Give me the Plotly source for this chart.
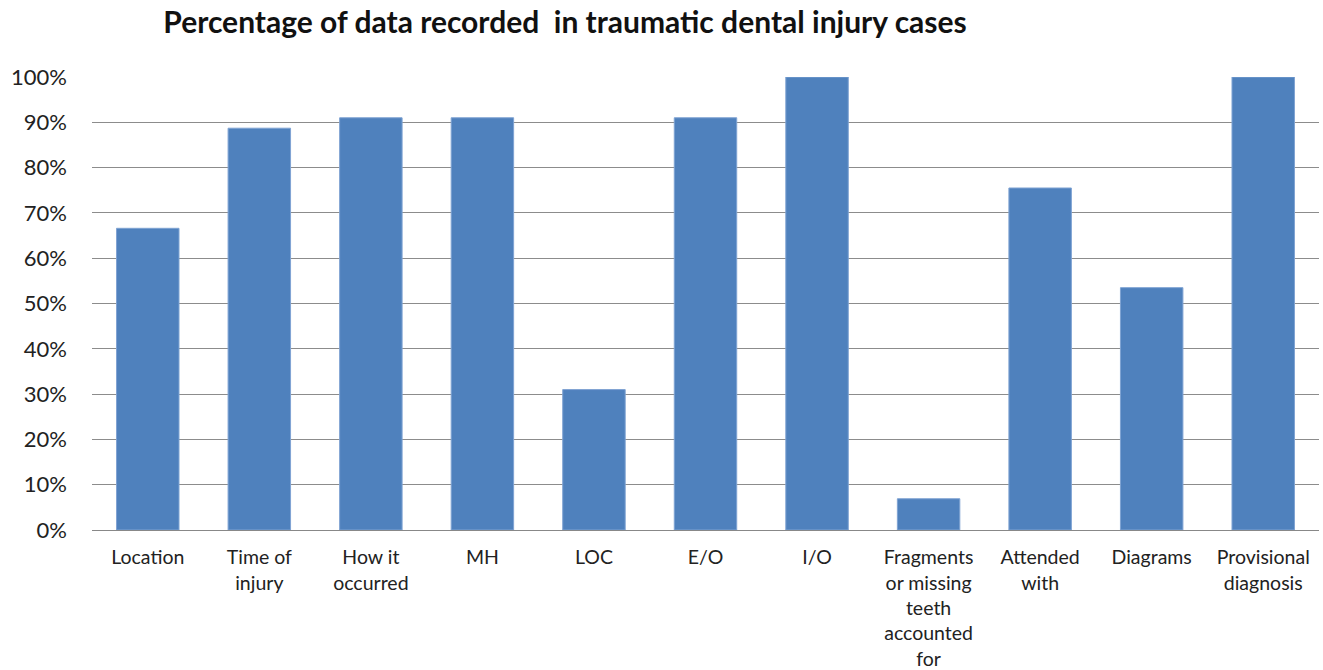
import plotly.graph_objects as go

categories = [
    "Location", "Time of<br>injury", "How it<br>occurred", "MH", "LOC", "E/O", "I/O",
    "Fragments<br>or missing<br>teeth<br>accounted<br>for",
    "Attended<br>with", "Diagrams", "Provisional<br>diagnosis",
]
values = [0.666, 0.887, 0.91, 0.91, 0.31, 0.91, 1.0, 0.069, 0.755, 0.535, 1.0]
y_ticks = [0, 0.1, 0.2, 0.3, 0.4, 0.5, 0.6, 0.7, 0.8, 0.9, 1.0]

fig = go.Figure(
    go.Bar(
        x=categories,
        y=values,
        marker=dict(color="#4F81BD", line=dict(color="#7FA3D3", width=1)),
    )
)

fig.update_layout(
    width=1323,
    height=670,
    margin=dict(l=92, r=4, t=77, b=140),
    paper_bgcolor="white",
    plot_bgcolor="white",
    bargap=0.44,
    showlegend=False,
    font=dict(family="Lato, Carlito, sans-serif", color="#222222"),
    title=dict(
        text="<b>Percentage of data recorded  in traumatic dental injury cases</b>",
        x=565 / 1323,
        xanchor="center",
        y=1 - 22 / 670,
        yanchor="middle",
        font=dict(size=30, color="#111111"),
    ),
)

fig.update_xaxes(
    tickfont=dict(size=19.5),
    showgrid=False,
    showline=True,
    linecolor="#888888",
    linewidth=1,
    ticks="",
    ticklabelstandoff=10,
    automargin=False,
)
fig.update_yaxes(
    range=[0, 1],
    tickvals=y_ticks,
    tickformat=".0%",
    tickfont=dict(size=22),
    showgrid=True,
    gridcolor="#8C8C8C",
    gridwidth=1,
    zeroline=False,
    ticklabelstandoff=24,
    automargin=False,
)

fig.write_html("out.html")
